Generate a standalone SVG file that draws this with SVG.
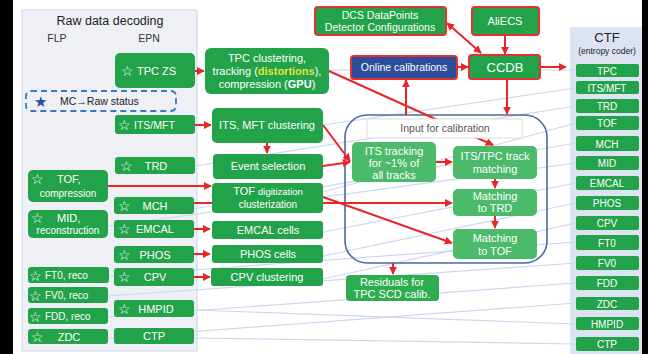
<svg xmlns="http://www.w3.org/2000/svg" width="648" height="354" viewBox="0 0 648 354">
<defs>
<style>
text{font-family:"Liberation Sans",Arial,sans-serif;}
.g{fill:#22a34a;}
.gl{fill:#4bba6b;}
.gr{fill:#22a34a;stroke:#e3312f;stroke-width:2;}
.w{fill:#fff;font-size:11px;text-anchor:middle;}
.ws{fill:#fff;font-size:10px;text-anchor:middle;}
.st{fill:#fff;font-family:"DejaVu Sans",sans-serif;font-size:14px;}
.red{stroke:#e8262a;stroke-width:2;fill:none;}
.faint{stroke:#ccd7ee;stroke-width:1.2;fill:none;}
.lbl{fill:#333;font-size:11px;text-anchor:middle;}
</style>
<marker id="ah" viewBox="0 0 10 10" refX="9" refY="5" markerWidth="4" markerHeight="4" orient="auto-start-reverse">
<path d="M0,0 L10,5 L0,10 z" fill="#e8262a"/>
</marker>
</defs>
<rect x="0" y="0" width="648" height="354" fill="#fff"/>
<rect x="0" y="0" width="13" height="354" fill="#000"/>
<rect x="642" y="0" width="6" height="354" fill="#000"/>

<g id="panel-raw">
<rect x="22" y="10" width="175" height="341" fill="#eef0f5" stroke="#c9d6ec" stroke-width="1"/>
<text x="110" y="25" style="font-size:12.5px;fill:#222;text-anchor:middle">Raw data decoding</text>
<text x="57" y="42" class="lbl" style="font-size:10.5px">FLP</text>
<text x="149" y="42" class="lbl" style="font-size:10.5px">EPN</text>
</g>
<g id="panel-ctf">
<rect x="570" y="27" width="72" height="327" fill="#dde3f3"/>
<text x="607" y="42" style="font-size:13px;fill:#222;text-anchor:middle">CTF</text>
<text x="607" y="54" style="font-size:8.5px;fill:#222;text-anchor:middle">(entropy coder)</text>
</g>

<g id="faint-connectors">
<path class="faint" d="M329,70 L576,70"/>
<path class="faint" d="M323,125 L576,88"/>
<path class="faint" d="M195,166 L576,106"/>
<path class="faint" d="M323,192 L576,123"/>
<path class="faint" d="M194,209 L576,143"/>
<path class="faint" d="M108,226 L576,163"/>
<path class="faint" d="M323,232 L576,183"/>
<path class="faint" d="M323,256 L576,203"/>
<path class="faint" d="M323,279 L576,223"/>
<path class="faint" d="M109,276 L576,242"/>
<path class="faint" d="M108,296 L576,263"/>
<path class="faint" d="M108,317 L576,283"/>
<path class="faint" d="M108,338 L576,303"/>
<path class="faint" d="M194,310 L576,324"/>
<path class="faint" d="M194,338 L576,344"/>
</g>

<g id="calib-box">
<rect x="345" y="115" width="202" height="148" rx="22" fill="none" stroke="#4a6b9e" stroke-width="1.6"/>
</g>

<g id="connectors">
<path class="red" d="M195,71 L204,71" marker-end="url(#ah)"/>
<path class="red" d="M195,125 L211,125" marker-end="url(#ah)"/>
<path class="red" d="M108,186 L211,186" marker-end="url(#ah)"/>
<path class="red" d="M194,203 L212,203"/>
<path class="red" d="M194,229 L210,229" marker-end="url(#ah)"/>
<path class="red" d="M194,254 L210,254" marker-end="url(#ah)"/>
<path class="red" d="M194,277 L210,277" marker-end="url(#ah)"/>
<path class="red" d="M267,143 L267,153" marker-end="url(#ah)"/>
<path class="red" d="M323,125 L350,161" marker-end="url(#ah)"/>
<path class="red" d="M323,166 L350,162" marker-end="url(#ah)"/>
<path class="red" d="M323,203 L452,203" marker-end="url(#ah)"/>
<path class="red" d="M323,197 L452,243" marker-end="url(#ah)"/>
<path class="red" d="M329,71 L493,145" marker-end="url(#ah)"/>
<path class="red" d="M406,115 L406,80" marker-end="url(#ah)"/>
<path class="red" d="M457,67 L468,67" marker-end="url(#ah)"/>
<path class="red" d="M505,35 L505,54" marker-end="url(#ah)"/>
<path class="red" d="M447,23 L481,53" marker-start="url(#ah)" marker-end="url(#ah)"/>
<path class="red" d="M540,67 L566,67" marker-end="url(#ah)"/>
<path class="red" d="M507,79 L507,114" marker-end="url(#ah)"/>
<path class="red" d="M436,162 L452,162" marker-end="url(#ah)"/>
<path class="red" d="M495,179 L495,188" marker-end="url(#ah)"/>
<path class="red" d="M495,216 L495,228" marker-end="url(#ah)"/>
<path class="red" d="M393,263 L393,274" marker-end="url(#ah)"/>
</g>

<g id="mc-raw">
<rect x="26" y="91" width="150" height="20" rx="5" fill="none" stroke="#3a78c0" stroke-width="1.8" stroke-dasharray="6 4"/>
<text x="34" y="107" style="font-family:'DejaVu Sans',sans-serif;font-size:15px;fill:#2b4c9b">★</text>
<text x="60" y="105" style="font-size:10.5px;fill:#222">MC→Raw status</text>
</g>

<g id="epn-tpczs"><rect class="g" x="115" y="53" width="80" height="35" rx="5"/><text class="st" x="121" y="76">☆</text><text x="137" y="75" style="fill:#fff;font-size:11px">TPC ZS</text></g>
<g id="epn-itsmft"><rect class="g" x="115" y="115" width="80" height="19" rx="3"/><text class="st" x="118" y="130">☆</text><text x="134" y="129" style="fill:#fff;font-size:10.5px">ITS/MFT</text></g>
<g id="epn-trd"><rect class="g" x="115" y="157" width="80" height="17" rx="3"/><text class="st" x="120" y="171">☆</text><text class="w" x="156" y="170">TRD</text></g>
<g id="epn-mch"><rect class="g" x="114" y="197" width="80" height="17" rx="3"/><text class="st" x="118" y="211">☆</text><text class="w" x="155" y="210">MCH</text></g>
<g id="epn-emcal"><rect class="g" x="114" y="220" width="80" height="18" rx="3"/><text class="st" x="118" y="234">☆</text><text x="136" y="233" style="fill:#fff;font-size:11px">EMCAL</text></g>
<g id="epn-phos"><rect class="g" x="114" y="246" width="80" height="17" rx="3"/><text class="st" x="118" y="260">☆</text><text class="w" x="155" y="259">PHOS</text></g>
<g id="epn-cpv"><rect class="g" x="114" y="268" width="80" height="18" rx="3"/><text class="st" x="118" y="282">☆</text><text class="w" x="155" y="281">CPV</text></g>
<g id="epn-hmpid"><rect class="g" x="114" y="300" width="80" height="17" rx="3"/><text class="st" x="118" y="314">☆</text><text class="w" x="156" y="313">HMPID</text></g>
<g id="epn-ctp"><rect class="g" x="114" y="328" width="80" height="16" rx="3"/><text class="w" x="154" y="340">CTP</text></g>

<g id="flp-tof"><rect class="g" x="28" y="170" width="80" height="32" rx="5"/><text class="st" x="31" y="184">☆</text><text x="57" y="183" style="fill:#fff;font-size:11px">TOF,</text><text class="ws" x="68" y="197">compression</text></g>
<g id="flp-mid"><rect class="g" x="28" y="210" width="80" height="28" rx="5"/><text class="st" x="31" y="223">☆</text><text x="57" y="222" style="fill:#fff;font-size:11px">MID,</text><text class="ws" x="68" y="234">reconstruction</text></g>
<g id="flp-ft0"><rect class="g" x="28" y="267" width="81" height="16" rx="3"/><text class="st" x="29" y="281">☆</text><text x="45" y="279" style="fill:#fff;font-size:10px">FT0, reco</text></g>
<g id="flp-fv0"><rect class="g" x="28" y="287" width="80" height="16" rx="3"/><text class="st" x="29" y="301">☆</text><text x="45" y="299" style="fill:#fff;font-size:10px">FV0, reco</text></g>
<g id="flp-fdd"><rect class="g" x="28" y="308" width="80" height="16" rx="3"/><text class="st" x="29" y="322">☆</text><text x="45" y="320" style="fill:#fff;font-size:10px">FDD, reco</text></g>
<g id="flp-zdc"><rect class="g" x="28" y="329" width="80" height="15" rx="3"/><text class="st" x="31" y="342">☆</text><text class="w" x="69" y="341">ZDC</text></g>

<g id="tpc-clust"><rect class="g" x="205" y="48" width="124" height="46" rx="6"/>
<text class="w" x="267" y="62">TPC clustetring,</text>
<text class="w" x="267" y="75">tracking (<tspan style="fill:#e4e23c;font-weight:bold">distortions</tspan>),</text>
<text class="w" x="267" y="88">compression (<tspan style="font-weight:bold">GPU</tspan>)</text></g>
<g id="its-clust"><rect class="g" x="212" y="108" width="111" height="35" rx="5"/><text class="w" x="267" y="129">ITS, MFT clustering</text></g>
<g id="event-sel"><rect class="g" x="213" y="154" width="110" height="25" rx="4"/><text class="w" x="268" y="170">Event selection</text></g>
<g id="tof-digi"><rect class="g" x="212" y="183" width="111" height="30" rx="4"/><text class="w" x="268" y="195">TOF <tspan style="font-size:9.5px">digitization</tspan></text><text class="ws" x="268" y="208">clusterization</text></g>
<g id="emcal-cells"><rect class="g" x="212" y="221" width="111" height="18" rx="3"/><text class="w" x="268" y="234">EMCAL cells</text></g>
<g id="phos-cells"><rect class="g" x="212" y="245" width="111" height="18" rx="3"/><text class="w" x="268" y="258">PHOS cells</text></g>
<g id="cpv-clust"><rect class="g" x="211" y="268" width="112" height="18" rx="3"/><text class="w" x="267" y="281">CPV clustering</text></g>

<g id="dcs"><rect class="gr" x="315" y="7" width="131" height="28" rx="3"/><text class="ws" x="380" y="19" style="font-size:10.5px">DCS DataPoints</text><text class="ws" x="380" y="31" style="font-size:10.5px">Detector Configurations</text></g>
<g id="aliecs"><rect class="gr" x="472" y="7" width="67" height="28" rx="3"/><text class="w" x="505" y="25">AliECS</text></g>
<g id="ccdb"><rect class="gr" x="469" y="55" width="71" height="24" rx="3"/><text class="w" x="505" y="72" style="font-size:13px">CCDB</text></g>
<g id="online-calib"><rect x="351" y="56" width="106" height="23" rx="3" fill="#2c4c9c" stroke="#e3312f" stroke-width="2"/><text class="ws" x="404" y="71" style="font-size:10.5px">Online calibrations</text></g>

<g id="input-calib"><rect x="367" y="119" width="155" height="19" fill="#fff" stroke="#dcdcdc" stroke-width="1"/><text x="445" y="132" style="font-size:10.5px;fill:#555;text-anchor:middle">Input for calibration</text></g>
<g id="its-tracking"><rect class="gl" x="352" y="142" width="84" height="40" rx="5"/><text class="w" x="394" y="155">ITS tracking</text><text class="w" x="394" y="167">for ~1% of</text><text class="w" x="394" y="179">all tracks</text></g>
<g id="its-tpc"><rect class="gl" x="453" y="146" width="84" height="33" rx="5"/><text class="w" x="495" y="160">ITS/TPC track</text><text class="w" x="495" y="173">matching</text></g>
<g id="match-trd"><rect class="gl" x="453" y="189" width="84" height="27" rx="5"/><text class="w" x="495" y="200">Matching</text><text class="w" x="495" y="212">to TRD</text></g>
<g id="match-tof"><rect class="gl" x="453" y="229" width="84" height="30" rx="5"/><text class="w" x="495" y="242">Matching</text><text class="w" x="495" y="255">to TOF</text></g>
<g id="residuals"><rect x="346" y="275" width="93" height="26" rx="4" fill="#2cae50"/><text class="w" x="392" y="286">Residuals for</text><text class="w" x="392" y="298">TPC SCD calib.</text></g>

<g id="ctf-items" style="font-size:10px">
<g id="ctf-tpc"><rect class="g" x="576" y="64" width="63" height="13" rx="2"/><text class="ws" x="607" y="74.5">TPC</text></g>
<g id="ctf-itsmft"><rect class="g" x="576" y="81" width="63" height="13" rx="2"/><text class="ws" x="607" y="91.5">ITS/MFT</text></g>
<g id="ctf-trd"><rect class="g" x="576" y="99" width="63" height="14" rx="2"/><text class="ws" x="607" y="110">TRD</text></g>
<g id="ctf-tof"><rect class="g" x="576" y="116" width="63" height="14" rx="2"/><text class="ws" x="607" y="127">TOF</text></g>
<g id="ctf-mch"><rect class="g" x="576" y="136" width="63" height="15" rx="2"/><text class="ws" x="607" y="147.5">MCH</text></g>
<g id="ctf-mid"><rect class="g" x="576" y="156" width="63" height="14" rx="2"/><text class="ws" x="607" y="167">MID</text></g>
<g id="ctf-emcal"><rect class="g" x="576" y="176" width="63" height="14" rx="2"/><text class="ws" x="607" y="187">EMCAL</text></g>
<g id="ctf-phos"><rect class="g" x="576" y="196" width="63" height="14" rx="2"/><text class="ws" x="607" y="207">PHOS</text></g>
<g id="ctf-cpv"><rect class="g" x="576" y="216" width="63" height="14" rx="2"/><text class="ws" x="607" y="227">CPV</text></g>
<g id="ctf-ft0"><rect class="g" x="576" y="235" width="63" height="15" rx="2"/><text class="ws" x="607" y="246.5">FT0</text></g>
<g id="ctf-fv0"><rect class="g" x="576" y="256" width="63" height="14" rx="2"/><text class="ws" x="607" y="267">FV0</text></g>
<g id="ctf-fdd"><rect class="g" x="576" y="276" width="63" height="14" rx="2"/><text class="ws" x="607" y="287">FDD</text></g>
<g id="ctf-zdc"><rect class="g" x="576" y="297" width="63" height="13" rx="2"/><text class="ws" x="607" y="307.5">ZDC</text></g>
<g id="ctf-hmpid"><rect class="g" x="576" y="317" width="63" height="13" rx="2"/><text class="ws" x="607" y="327.5">HMPID</text></g>
<g id="ctf-ctp"><rect class="g" x="576" y="337" width="63" height="14" rx="2"/><text class="ws" x="607" y="348">CTP</text></g>
</g>
</svg>
